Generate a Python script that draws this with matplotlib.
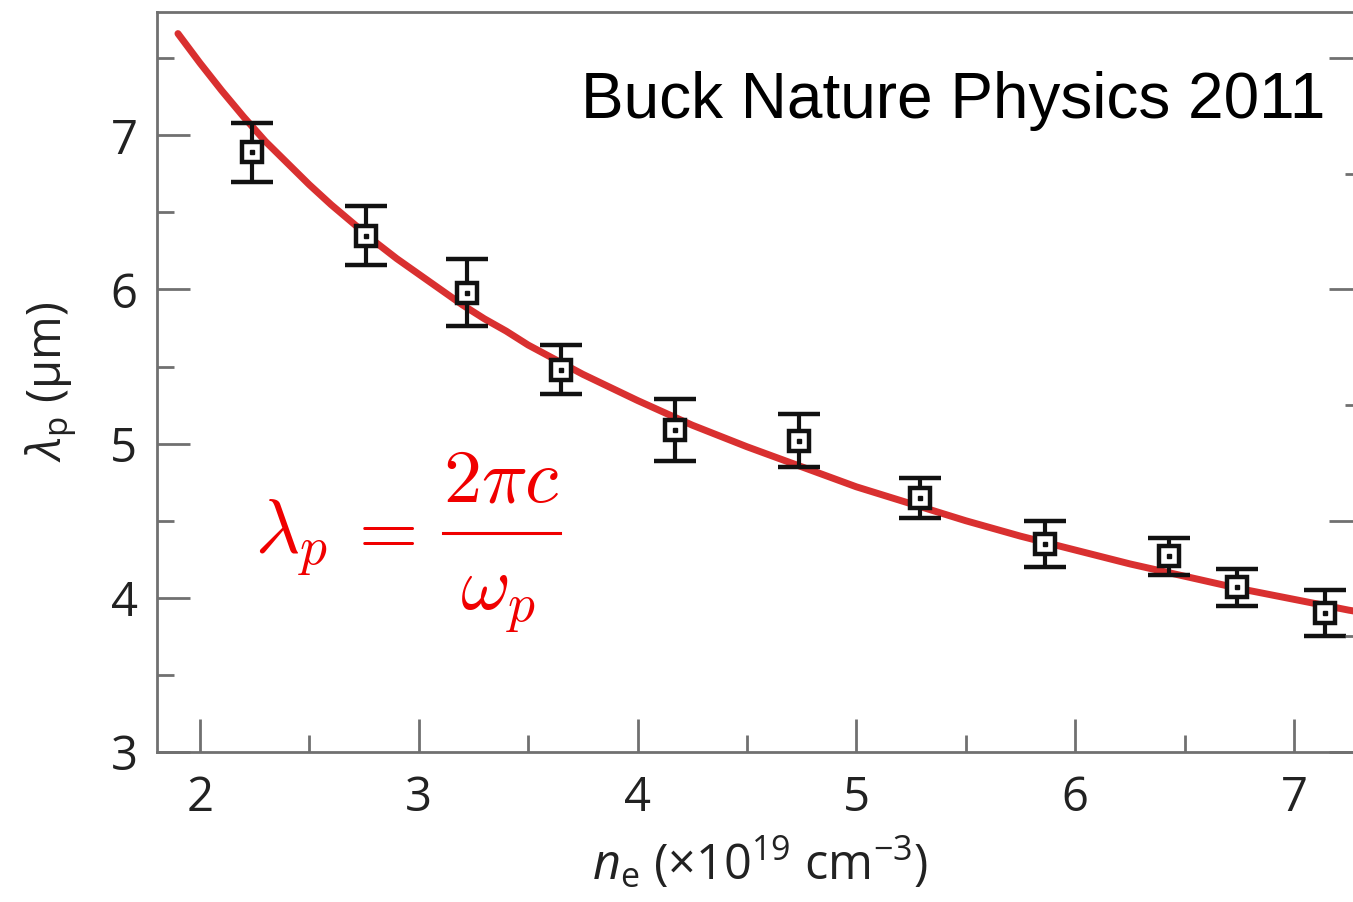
import matplotlib.pyplot as plt
from matplotlib.lines import Line2D
from matplotlib.ticker import MultipleLocator, FixedLocator

# Measured plasma wavelength vs electron density
density = [2.24, 2.76, 3.22, 3.65, 4.17, 4.74, 5.29, 5.86, 6.43, 6.74, 7.14]
wavelength = [6.89, 6.35, 5.98, 5.48, 5.09, 5.02, 4.65, 4.35, 4.27, 4.07, 3.90]
wl_err = [0.19, 0.19, 0.22, 0.16, 0.20, 0.17, 0.13, 0.15, 0.12, 0.12, 0.15]

# Theory curve
curve_n = [1.90, 2.00, 2.10, 2.20, 2.30, 2.40, 2.50, 2.60, 2.70, 2.80, 2.90,
           3.00, 3.10, 3.20, 3.30, 3.40, 3.50, 3.75, 4.00, 4.25, 4.50,
           4.75, 5.00, 5.25, 5.50, 5.75, 6.00, 6.25, 6.50, 6.75, 7.00, 7.25, 7.50]
curve_wl = [7.66, 7.47, 7.29, 7.12, 6.96, 6.82, 6.68, 6.55, 6.43, 6.31, 6.20,
            6.10, 6.00, 5.90, 5.81, 5.73, 5.64, 5.45, 5.28, 5.12, 4.98,
            4.85, 4.72, 4.61, 4.50, 4.40, 4.31, 4.22, 4.14, 4.06, 3.99, 3.92, 3.86]

x_ticks = [2, 3, 4, 5, 6, 7]
y_ticks = [3, 4, 5, 6, 7]

plt.rcParams['font.family'] = ['Open Sans', 'DejaVu Sans']
plt.rcParams['mathtext.fontset'] = 'custom'
plt.rcParams['mathtext.rm'] = 'Open Sans'
plt.rcParams['mathtext.it'] = 'Open Sans:italic'

spine_col = '#707070'
text_col = '#222222'
eq_col = '#f00000'

fig = plt.figure(figsize=(13.53, 9.02), dpi=100)
ax = fig.add_axes([0.116, 0.1663, 0.8906, 0.8204])

ax.plot(curve_n, curve_wl, color='#d93030', lw=5, solid_capstyle='round',
        solid_joinstyle='round', zorder=3)
ax.errorbar(density, wavelength, yerr=wl_err, fmt='s', color='#111111', ms=14,
            mfc='white', mec='#111111', mew=3.2, ecolor='#111111', elinewidth=3,
            capsize=15, capthick=3, zorder=4)
ax.plot(density, wavelength, 's', color='#111111', ms=2.5, zorder=5)

ax.set_xlim(1.804, 7.31)
ax.set_ylim(3.0, 7.8)
ax.set_xticks(x_ticks)
ax.set_yticks(y_ticks)
ax.xaxis.set_minor_locator(MultipleLocator(0.5))
ax.yaxis.set_minor_locator(MultipleLocator(0.5))
ax.tick_params(which='both', direction='in', color=spine_col, width=2,
               labelsize=34, labelcolor=text_col)
ax.tick_params(which='major', length=24)
ax.tick_params(which='minor', length=12)
ax.tick_params(axis='y', pad=14)
ax.tick_params(axis='x', pad=16)
for s in ax.spines.values():
    s.set_color(spine_col)
    s.set_linewidth(2)

# right side ticks of the frame
ax2 = ax.twinx()
ax2.set_ylim(ax.get_ylim())
ax2.yaxis.set_major_locator(FixedLocator([7.5, 6.0, 4.5, 3.0]))
ax2.yaxis.set_minor_locator(FixedLocator([6.75, 5.25, 3.75]))
ax2.tick_params(which='both', direction='in', color=spine_col, width=2, labelright=False)
ax2.tick_params(which='major', length=24)
ax2.tick_params(which='minor', length=12)
for s in ax2.spines.values():
    s.set_visible(False)

ax.set_ylabel(r'$\mathit{\lambda}_\mathrm{p}$ (µm)', fontsize=34, color=text_col, labelpad=22)
ax.set_xlabel(r'$\mathit{n}_\mathrm{e}$ (×10$^{19}$ cm$^{-3}$)', fontsize=35, color=text_col, labelpad=10)

fig.text(0.9795, 0.869, 'Buck Nature Physics 2011', fontsize=46, color='black',
         family=['Liberation Sans', 'DejaVu Sans'], ha='right', va='baseline')

# lambda_p = 2 pi c / omega_p, set as a display fraction
eq_kw = dict(fontsize=55, color=eq_col, math_fontfamily='cm', va='baseline')
fig.text(0.1885, 0.3869, r'$\lambda_p$', ha='left', **eq_kw)
fig.text(0.2808, 0.3869, r'$=$', ha='center', **eq_kw)
fig.text(0.3703, 0.4435, r'$2\pi c$', ha='center', **eq_kw)
fig.text(0.3681, 0.3237, r'$\omega_p$', ha='center', **eq_kw)
fig.add_artist(Line2D([0.3274, 0.4139], [0.4091, 0.4091], color=eq_col, lw=2.2,
                      transform=fig.transFigure))

fig.savefig('out.png', dpi=100)
